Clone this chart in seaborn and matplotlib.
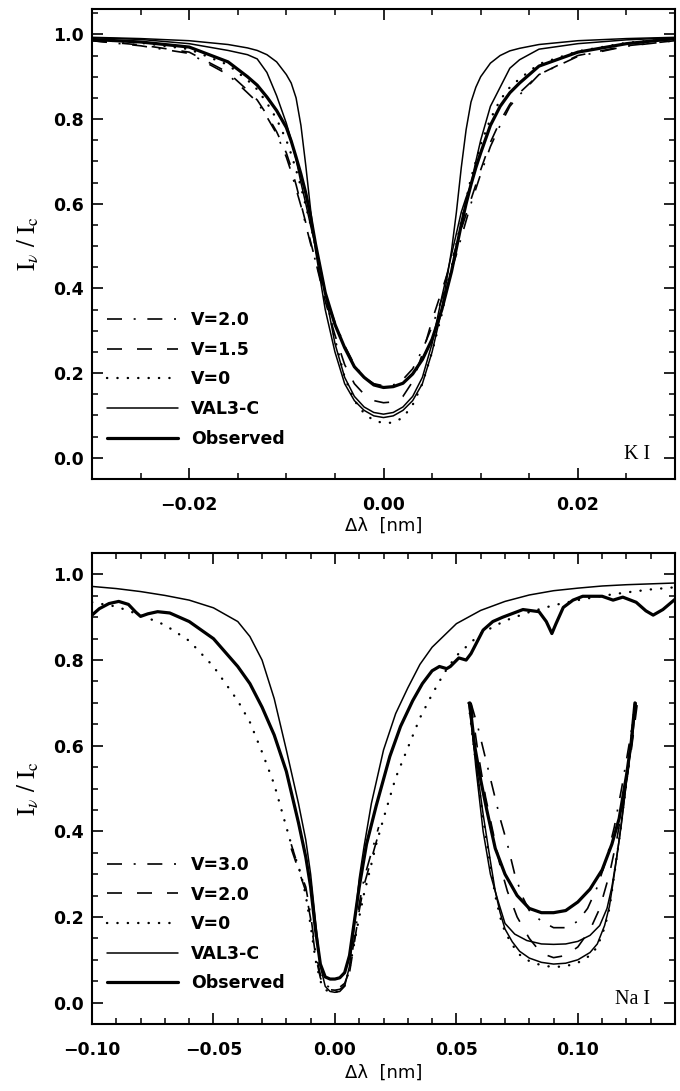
import numpy as np
import pandas as pd
import matplotlib
matplotlib.use("Agg")
import matplotlib.pyplot as plt
from matplotlib.ticker import MultipleLocator
from matplotlib.font_manager import FontProperties
import seaborn as sns

# ---------------- K I 769.9 nm profiles ----------------
ki_dl = [-0.030, -0.025, -0.020, -0.016, -0.014, -0.013, -0.012, -0.011, -0.010, -0.0095,
         -0.009, -0.0085, -0.008, -0.0075, -0.007, -0.006, -0.005, -0.004, -0.003, -0.002,
         -0.001, 0.000, 0.001, 0.002, 0.003, 0.004, 0.005, 0.006, 0.007, 0.0075,
         0.008, 0.0085, 0.009, 0.0095, 0.010, 0.011, 0.012, 0.013, 0.014, 0.016,
         0.020, 0.025, 0.030]
ki_val3c = [0.993, 0.990, 0.985, 0.976, 0.968, 0.962, 0.952, 0.935, 0.905, 0.885,
            0.850, 0.785, 0.690, 0.585, 0.490, 0.350, 0.250, 0.175, 0.135, 0.112,
            0.099, 0.095, 0.099, 0.112, 0.135, 0.175, 0.250, 0.350, 0.490, 0.580,
            0.685, 0.775, 0.840, 0.875, 0.900, 0.932, 0.950, 0.961, 0.967, 0.976,
            0.985, 0.990, 0.993]
ki_model2 = [0.992, 0.988, 0.978, 0.962, 0.952, 0.942, 0.910, 0.855, 0.790, 0.750,
             0.705, 0.650, 0.600, 0.548, 0.500, 0.390, 0.270, 0.190, 0.145, 0.120,
             0.107, 0.103, 0.107, 0.120, 0.145, 0.190, 0.270, 0.380, 0.480, 0.530,
             0.580, 0.615, 0.645, 0.700, 0.750, 0.830, 0.875, 0.920, 0.940, 0.965,
             0.978, 0.987, 0.992]
ki_obs = [0.988, 0.982, 0.970, 0.935, 0.900, 0.880, 0.852, 0.820, 0.780, 0.748,
          0.710, 0.670, 0.625, 0.570, 0.505, 0.390, 0.315, 0.260, 0.215, 0.190,
          0.172, 0.166, 0.168, 0.176, 0.198, 0.232, 0.280, 0.350, 0.440, 0.495,
          0.550, 0.600, 0.645, 0.685, 0.720, 0.785, 0.830, 0.862, 0.885, 0.925,
          0.958, 0.978, 0.990]
ki_v15 = [0.985, 0.975, 0.958, 0.910, 0.868, 0.845, 0.810, 0.770, 0.720, 0.685,
          0.645, 0.600, 0.555, 0.510, 0.465, 0.370, 0.290, 0.220, 0.175, 0.150,
          0.135, 0.130, 0.132, 0.145, 0.180, 0.245, 0.325, 0.395, 0.465, 0.500,
          0.540, 0.575, 0.610, 0.645, 0.680, 0.745, 0.795, 0.835, 0.862, 0.905,
          0.950, 0.973, 0.985]
ki_v20 = [0.985, 0.973, 0.955, 0.905, 0.862, 0.840, 0.805, 0.765, 0.710, 0.675,
          0.635, 0.595, 0.550, 0.505, 0.465, 0.385, 0.320, 0.265, 0.220, 0.190,
          0.175, 0.170, 0.172, 0.185, 0.210, 0.255, 0.310, 0.375, 0.445, 0.480,
          0.520, 0.560, 0.600, 0.635, 0.670, 0.735, 0.785, 0.830, 0.857, 0.905,
          0.948, 0.972, 0.985]
ki_v0 = [0.988, 0.980, 0.965, 0.928, 0.892, 0.870, 0.838, 0.800, 0.750, 0.717,
         0.680, 0.640, 0.595, 0.550, 0.500, 0.390, 0.280, 0.190, 0.135, 0.105,
         0.088, 0.082, 0.083, 0.095, 0.125, 0.175, 0.250, 0.340, 0.450, 0.505,
         0.560, 0.610, 0.660, 0.700, 0.740, 0.800, 0.845, 0.875, 0.895, 0.930,
         0.960, 0.980, 0.990]

# ---------------- Na I 589.6 nm profiles ----------------
na_obs_dl = [-0.100, -0.097, -0.093, -0.089, -0.085, -0.082, -0.080, -0.077, -0.073, -0.068,
             -0.060, -0.050, -0.040, -0.035, -0.030, -0.025, -0.020, -0.015, -0.012, -0.010,
             -0.008, -0.006, -0.004, -0.002, 0.000, 0.002, 0.004, 0.006, 0.008, 0.010,
             0.013, 0.017, 0.0226, 0.027, 0.032, 0.036, 0.040, 0.043, 0.046, 0.0475,
             0.051, 0.054, 0.056, 0.061, 0.065, 0.069, 0.0774, 0.084, 0.087, 0.0893,
             0.091, 0.094, 0.098, 0.102, 0.110, 0.1145, 0.1185, 0.124, 0.128, 0.131,
             0.135, 0.140]
na_obs = [0.905, 0.920, 0.932, 0.937, 0.930, 0.912, 0.902, 0.908, 0.913, 0.910,
          0.890, 0.850, 0.785, 0.745, 0.690, 0.625, 0.540, 0.420, 0.340, 0.270,
          0.170, 0.090, 0.060, 0.055, 0.055, 0.058, 0.070, 0.110, 0.190, 0.270,
          0.370, 0.460, 0.575, 0.645, 0.705, 0.745, 0.775, 0.785, 0.780, 0.785,
          0.805, 0.800, 0.815, 0.870, 0.890, 0.900, 0.918, 0.913, 0.890, 0.862,
          0.885, 0.923, 0.940, 0.949, 0.949, 0.940, 0.947, 0.935, 0.915, 0.905,
          0.918, 0.942]

na_val_dl = [-0.10, -0.09, -0.08, -0.07, -0.06, -0.05, -0.04, -0.035, -0.03, -0.025,
             -0.02, -0.015, -0.012, -0.010, -0.008, -0.006, -0.004, -0.002, 0.0, 0.002,
             0.004, 0.006, 0.008, 0.010, 0.012, 0.015, 0.02, 0.025, 0.03, 0.035,
             0.04, 0.05, 0.06, 0.07, 0.08, 0.09, 0.10, 0.11, 0.12, 0.13, 0.14]
na_val3c = [0.972, 0.967, 0.960, 0.951, 0.940, 0.922, 0.890, 0.855, 0.800, 0.710,
            0.590, 0.465, 0.380, 0.300, 0.190, 0.085, 0.038, 0.026, 0.024, 0.026,
            0.038, 0.085, 0.180, 0.290, 0.365, 0.465, 0.590, 0.675, 0.735, 0.790,
            0.830, 0.885, 0.916, 0.937, 0.952, 0.962, 0.968, 0.973, 0.976, 0.978, 0.980]

na_v0_dl = [-0.10, -0.09, -0.08, -0.07, -0.06, -0.05, -0.04, -0.035, -0.03, -0.025,
            -0.02, -0.017, -0.014, -0.012, -0.010, -0.008, -0.006, -0.004, -0.002, 0.0,
            0.002, 0.004, 0.006, 0.008, 0.010, 0.012, 0.014, 0.017, 0.02, 0.025,
            0.03, 0.035, 0.04, 0.045, 0.05, 0.06, 0.07, 0.08, 0.09, 0.10,
            0.11, 0.12, 0.13, 0.14]
na_v0 = [0.935, 0.925, 0.905, 0.882, 0.845, 0.785, 0.705, 0.655, 0.585, 0.510,
         0.410, 0.350, 0.300, 0.250, 0.180, 0.100, 0.050, 0.030, 0.025, 0.025,
         0.027, 0.040, 0.080, 0.140, 0.200, 0.255, 0.300, 0.370, 0.430, 0.525,
         0.595, 0.665, 0.720, 0.770, 0.810, 0.862, 0.892, 0.912, 0.928, 0.940,
         0.950, 0.958, 0.965, 0.970]

na_core_dl = [-0.018, -0.015, -0.012, -0.010, -0.008, -0.006, -0.004, -0.002, 0.0,
              0.002, 0.004, 0.006, 0.008, 0.010, 0.012, 0.015, 0.018]
na_v30 = [0.370, 0.315, 0.270, 0.205, 0.120, 0.065, 0.042, 0.035, 0.034,
          0.036, 0.045, 0.075, 0.150, 0.230, 0.290, 0.350, 0.410]
na_v20 = [0.360, 0.310, 0.260, 0.195, 0.110, 0.058, 0.036, 0.030, 0.029,
          0.031, 0.040, 0.070, 0.140, 0.215, 0.275, 0.335, 0.395]

# magnified line core, drawn inside the Na I panel
zoom_obs_dl = [0.0555, 0.0575, 0.060, 0.0625, 0.066, 0.070, 0.075, 0.080, 0.085, 0.090,
               0.095, 0.100, 0.105, 0.110, 0.114, 0.117, 0.120, 0.122, 0.1235]
zoom_obs = [0.70, 0.60, 0.52, 0.45, 0.36, 0.30, 0.25, 0.22, 0.21, 0.21,
            0.215, 0.235, 0.265, 0.31, 0.37, 0.43, 0.53, 0.61, 0.70]
zoom_val_dl = [0.0555, 0.058, 0.061, 0.064, 0.067, 0.070, 0.074, 0.079, 0.085, 0.090,
               0.095, 0.100, 0.105, 0.109, 0.112, 0.114, 0.116, 0.118, 0.1205, 0.1225, 0.124]
zoom_val3c = [0.70, 0.55, 0.40, 0.30, 0.24, 0.185, 0.16, 0.145, 0.137, 0.136,
              0.137, 0.143, 0.157, 0.18, 0.22, 0.27, 0.34, 0.42, 0.54, 0.62, 0.70]
zoom_low_dl = [0.055, 0.058, 0.061, 0.064, 0.066, 0.068, 0.070, 0.073, 0.076, 0.080,
               0.085, 0.090, 0.095, 0.100, 0.105, 0.108, 0.111, 0.113, 0.115, 0.117,
               0.119, 0.121, 0.1235]
zoom_v0 = [0.70, 0.56, 0.43, 0.32, 0.25, 0.20, 0.165, 0.135, 0.112, 0.097,
           0.087, 0.083, 0.085, 0.093, 0.11, 0.13, 0.175, 0.22, 0.30, 0.38,
           0.47, 0.56, 0.70]
zoom_model2 = [0.70, 0.565, 0.44, 0.33, 0.26, 0.21, 0.172, 0.142, 0.12, 0.104,
               0.094, 0.090, 0.092, 0.10, 0.117, 0.137, 0.18, 0.225, 0.30, 0.38,
               0.47, 0.56, 0.70]
zoom_v20_dl = [0.056, 0.059, 0.062, 0.065, 0.068, 0.071, 0.075, 0.080, 0.085, 0.090,
               0.095, 0.100, 0.105, 0.109, 0.113, 0.116, 0.119, 0.122, 0.1245]
zoom_v20 = [0.70, 0.58, 0.48, 0.40, 0.32, 0.26, 0.20, 0.15, 0.115, 0.105,
            0.11, 0.13, 0.17, 0.22, 0.30, 0.38, 0.48, 0.59, 0.70]
zoom_v30_dl = [0.056, 0.059, 0.062, 0.065, 0.068, 0.071, 0.074, 0.077, 0.080, 0.085,
               0.090, 0.095, 0.100, 0.104, 0.108, 0.112, 0.115, 0.118, 0.121, 0.124]
zoom_v30 = [0.70, 0.64, 0.57, 0.50, 0.43, 0.37, 0.30, 0.25, 0.215, 0.19,
            0.175, 0.175, 0.19, 0.22, 0.27, 0.34, 0.41, 0.50, 0.60, 0.70]

# ---------------- styling ----------------
sns.set_style("ticks")
plt.rcParams.update({
    "font.family": ["DejaVu Sans"],
    "mathtext.fontset": "stix",
    "text.color": "black",
    "axes.labelcolor": "black",
    "axes.linewidth": 1.5,
    "xtick.direction": "in", "ytick.direction": "in",
    "xtick.top": True, "ytick.right": True,
    "xtick.major.size": 8, "ytick.major.size": 8,
    "xtick.minor.size": 4.5, "ytick.minor.size": 4.5,
    "xtick.major.width": 1.2, "ytick.major.width": 1.2,
    "xtick.minor.width": 1.1, "ytick.minor.width": 1.1,
    "axes.edgecolor": "black",
    "xtick.color": "black", "ytick.color": "black",
})

THIN = dict(color="black", lw=1.1, linestyle="-")
THICK = dict(color="black", lw=2.3, linestyle="-", solid_capstyle="round")
DASHED = dict(color="black", lw=1.2, linestyle=(0, (9, 9)))
DASHDOT = dict(color="black", lw=1.2, linestyle=(0, (9, 7, 1.2, 7)))
DOTTED = dict(color="black", lw=1.7, linestyle=(0, (0.1, 4.3)), dash_capstyle="round")

tick_font = FontProperties(family="DejaVu Sans", weight="bold", size=12.5)


def curve(ax, x, y, style, label=None):
    df = pd.DataFrame({"dl": x, "I": y})
    sns.lineplot(data=df, x="dl", y="I", ax=ax, estimator=None, sort=False,
                 label=label, legend=False, **style)


def dress(ax, xlim, ylim, major, major_text, minor, line_name, legend_labels):
    ax.set_xlim(*xlim)
    ax.set_ylim(*ylim)
    ax.set_xticks(major)
    ax.set_xticklabels(major_text)
    ax.xaxis.set_minor_locator(MultipleLocator(minor))
    ax.set_yticks([0.0, 0.2, 0.4, 0.6, 0.8, 1.0])
    ax.set_yticklabels(["0.0", "0.2", "0.4", "0.6", "0.8", "1.0"])
    ax.yaxis.set_minor_locator(MultipleLocator(0.05))
    ax.tick_params(axis="x", which="major", pad=12)
    ax.tick_params(axis="y", which="major", pad=6)
    for lab in ax.get_xticklabels() + ax.get_yticklabels():
        lab.set_fontproperties(tick_font)
        lab.set_color("black")
    ax.set_xlabel("\u0394\u03bb  [nm]", fontsize=13, family="DejaVu Sans", color="black")
    ax.set_ylabel(r"$\mathrm{I}_{\nu}\ /\ \mathrm{I}_{\mathrm{c}}$", fontsize=18, color="black")
    ax.yaxis.set_label_coords(-0.088, 0.5)
    ax.text(0.957, 0.051, line_name, transform=ax.transAxes, ha="right", va="center",
            family="Liberation Serif", fontsize=14.5, color="black")
    handles, labels = ax.get_legend_handles_labels()
    lookup = dict(zip(labels, handles))
    leg = ax.legend([lookup[l] for l in legend_labels], legend_labels,
                    loc="upper left", bbox_to_anchor=(0.025, 0.357), frameon=False,
                    borderaxespad=0, borderpad=0, handlelength=4.1, handletextpad=0.75,
                    labelspacing=0.67,
                    prop=FontProperties(family="DejaVu Sans", weight="bold", size=12.5))
    for t in leg.get_texts():
        t.set_color("black")
    return leg


fig = plt.figure(figsize=(6.8, 10.91), dpi=100)
fig.patch.set_facecolor("white")
ax1 = fig.add_axes([0.1353, 0.5610, 0.8574, 0.4308])
ax2 = fig.add_axes([0.1353, 0.0614, 0.8574, 0.4317])

# K I panel
curve(ax1, ki_dl, ki_v20, DASHDOT, "V=2.0")
curve(ax1, ki_dl, ki_v15, DASHED, "V=1.5")
curve(ax1, ki_dl, ki_v0, DOTTED, "V=0")
curve(ax1, ki_dl, ki_model2, THIN)
curve(ax1, ki_dl, ki_val3c, THIN, "VAL3-C")
curve(ax1, ki_dl, ki_obs, THICK, "Observed")
dress(ax1, (-0.03, 0.03), (-0.05, 1.06), [-0.02, 0.0, 0.02],
      ["\u22120.02", "0.00", "0.02"], 0.005, "K I",
      ["V=2.0", "V=1.5", "V=0", "VAL3-C", "Observed"])
ax1.xaxis.set_label_coords(0.5, -0.08)

# Na I panel
curve(ax2, na_core_dl, na_v30, DASHDOT, "V=3.0")
curve(ax2, na_core_dl, na_v20, DASHED, "V=2.0")
curve(ax2, na_v0_dl, na_v0, DOTTED, "V=0")
curve(ax2, na_val_dl, na_val3c, THIN, "VAL3-C")
curve(ax2, na_obs_dl, na_obs, THICK, "Observed")
curve(ax2, zoom_v30_dl, zoom_v30, DASHDOT)
curve(ax2, zoom_v20_dl, zoom_v20, DASHED)
curve(ax2, zoom_low_dl, zoom_v0, DOTTED)
curve(ax2, zoom_low_dl, zoom_model2, THIN)
curve(ax2, zoom_val_dl, zoom_val3c, THIN)
curve(ax2, zoom_obs_dl, zoom_obs, THICK)
dress(ax2, (-0.10, 0.14), (-0.05, 1.05), [-0.10, -0.05, 0.0, 0.05, 0.10],
      ["\u22120.10", "\u22120.05", "0.00", "0.05", "0.10"], 0.01, "Na I",
      ["V=3.0", "V=2.0", "V=0", "VAL3-C", "Observed"])
ax2.xaxis.set_label_coords(0.5, -0.085)

fig.savefig("out.png", dpi=100, facecolor="white")
